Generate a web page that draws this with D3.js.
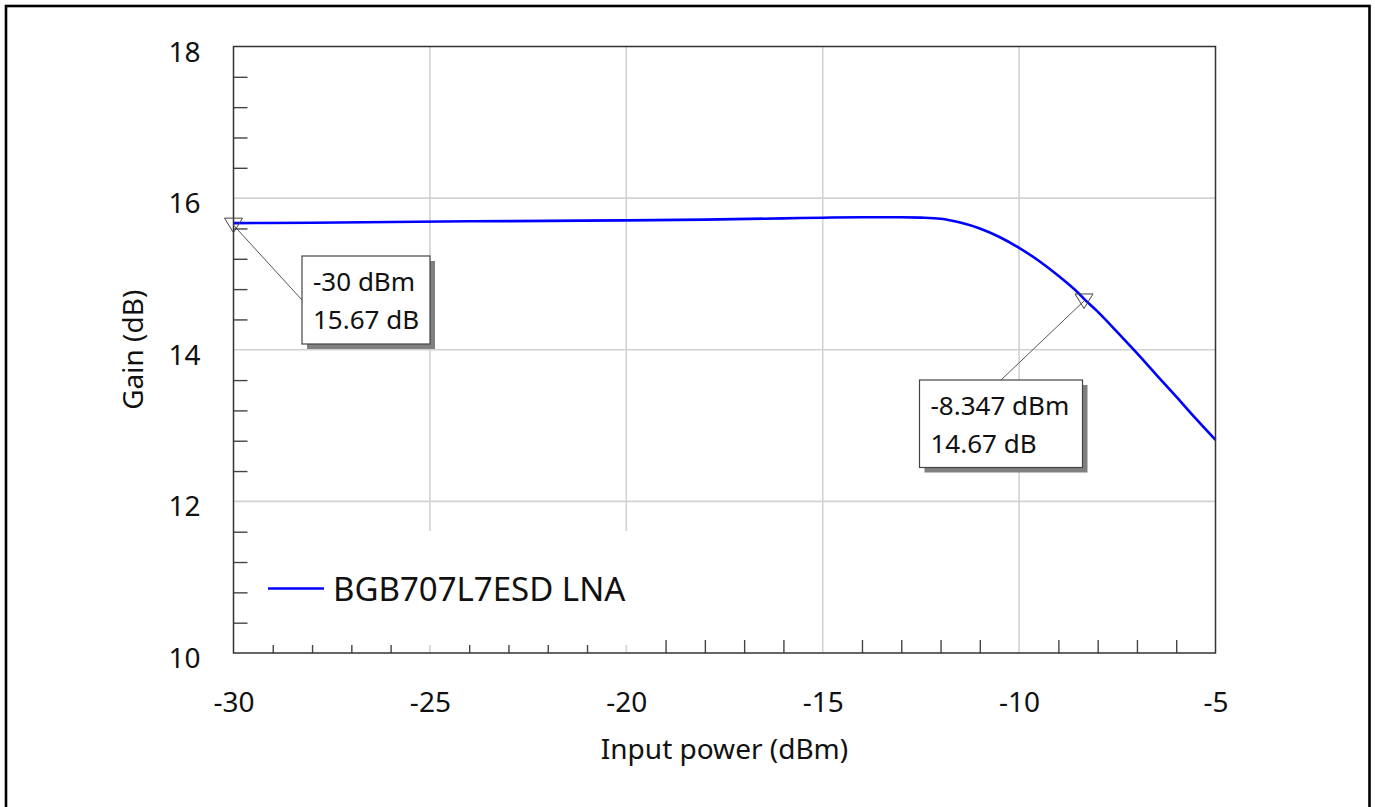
<!DOCTYPE html>
<html>
<head>
<meta charset="utf-8">
<script src="https://cdn.jsdelivr.net/npm/d3@7"></script>
<style>
  html, body { margin: 0; padding: 0; background: #fff; }
  svg { display: block; }
  text { font-family: "Noto Sans", sans-serif; fill: #111; }
</style>
</head>
<body>
<svg id="chart" width="1375" height="807"></svg>
<script>
// Swept input power (dBm) and measured LNA gain (dB)
const inputPower = [-30, -28, -26, -24, -22, -20, -18, -16, -15, -14, -13, -12.5, -12, -11.5, -11, -10.5, -10, -9.5, -9, -8.5, -8.347, -8, -7.5, -7, -6.5, -6, -5.5, -5];
const gain       = [15.67, 15.675, 15.685, 15.694, 15.70, 15.707, 15.717, 15.733, 15.742, 15.747, 15.748, 15.743, 15.728, 15.678, 15.599, 15.487, 15.344, 15.174, 14.975, 14.752, 14.67, 14.503, 14.233, 13.954, 13.666, 13.381, 13.09, 12.81];

const seriesName = "BGB707L7ESD LNA";

// Marker readouts
const markerPower = [-30, -8.347];
const markerGain  = [15.67, 14.67];

// Axis ticks
const xMajorTicks = [-30, -25, -20, -15, -10, -5];
const yMajorTicks = [10, 12, 14, 16, 18];
const xMinorStep = 1;
const yMinorStep = 0.4;

const xTitle = "Input power (dBm)";
const yTitle = "Gain (dB)";

const svg = d3.select("#chart");
const L = 233.5, R = 1215.5, T = 46.5, B = 653;

const x = d3.scaleLinear().domain([-30, -5]).range([L, R]);
const y = d3.scaleLinear().domain([10, 18]).range([B, T]);

// Plain hyphen-minus for negative labels
const fmt = d => String(d);

// Outer frame
svg.append("rect")
  .attr("x", 6).attr("y", 6).attr("width", 1363.5).attr("height", 820)
  .attr("fill", "none").attr("stroke", "#000").attr("stroke-width", 2.6);

// Gridlines
const gridX = [-25, -20, -15, -10];
const gridY = [12, 14, 16];
svg.append("g").selectAll("line").data(gridX).join("line")
  .attr("x1", d => x(d)).attr("x2", d => x(d)).attr("y1", T).attr("y2", B)
  .attr("stroke", "#d2d2d2").attr("stroke-width", 1.6);
svg.append("g").selectAll("line").data(gridY).join("line")
  .attr("y1", d => y(d)).attr("y2", d => y(d)).attr("x1", L).attr("x2", R)
  .attr("stroke", "#d2d2d2").attr("stroke-width", 1.6);

// Minor ticks (inside the plot)
const xMinor = d3.range(-30, -5 + 1e-9, xMinorStep).filter(v => !xMajorTicks.includes(Math.round(v)));
const yMinor = d3.range(10, 18 + 1e-9, yMinorStep).map(v => +v.toFixed(2)).filter(v => Math.abs(v - Math.round(v)) > 1e-6 || Math.round(v) % 2 === 1);

const xMinorAxis = svg.append("g")
  .attr("transform", `translate(0,${B})`)
  .call(d3.axisBottom(x).tickValues(xMinor).tickSizeInner(-13).tickSizeOuter(0).tickFormat(""));
xMinorAxis.select(".domain").remove();
xMinorAxis.selectAll("line").attr("stroke", "#444").attr("stroke-width", 1.4);

const yMinorAxis = svg.append("g")
  .attr("transform", `translate(${L},0)`)
  .call(d3.axisLeft(y).tickValues(yMinor).tickSizeInner(-14).tickSizeOuter(0).tickFormat(""));
yMinorAxis.select(".domain").remove();
yMinorAxis.selectAll("line").attr("stroke", "#444").attr("stroke-width", 1.4);

// Legend panel (opaque, sits over grid and ticks)
svg.append("rect")
  .attr("x", 250).attr("y", 531).attr("width", 392).attr("height", 114)
  .attr("fill", "#fff");
svg.append("line")
  .attr("x1", 268).attr("x2", 324).attr("y1", 588.5).attr("y2", 588.5)
  .attr("stroke", "#0000ff").attr("stroke-width", 2.6);
svg.append("text")
  .attr("x", 333).attr("y", 601)
  .attr("font-size", 33)
  .text(seriesName);

// Gain curve
const line = d3.line()
  .x((d, i) => x(inputPower[i]))
  .y(d => y(d))
  .curve(d3.curveMonotoneX);
svg.append("path")
  .attr("d", line(gain))
  .attr("fill", "none")
  .attr("stroke", "#0000ff")
  .attr("stroke-width", 2.6);

// Plot frame
svg.append("rect")
  .attr("x", L).attr("y", T).attr("width", R - L).attr("height", B - T)
  .attr("fill", "none").attr("stroke", "#333").attr("stroke-width", 1.5);

// Tick labels
const xLab = svg.append("g")
  .attr("transform", `translate(0,${B})`)
  .call(d3.axisBottom(x).tickValues(xMajorTicks).tickSize(0).tickPadding(39).tickFormat(fmt));
xLab.select(".domain").remove();
xLab.selectAll("text").attr("font-size", 28).attr("font-family", "Noto Sans").attr("fill", "#111");

const yLab = svg.append("g")
  .attr("transform", `translate(${L},0)`)
  .call(d3.axisLeft(y).tickValues(yMajorTicks).tickSize(0).tickPadding(33).tickFormat(fmt));
yLab.select(".domain").remove();
yLab.selectAll("text").attr("font-size", 28).attr("font-family", "Noto Sans").attr("fill", "#111").attr("dy", "0.52em");

// Axis titles
svg.append("text")
  .attr("x", (L + R) / 2).attr("y", 759)
  .attr("text-anchor", "middle").attr("font-size", 28)
  .text(xTitle);
svg.append("text")
  .attr("transform", `translate(142.5,${(T + B) / 2}) rotate(-90)`)
  .attr("text-anchor", "middle").attr("font-size", 28)
  .text(yTitle);

// Marker readouts: triangle, leader and shadowed label box
const boxes = [
  { bx: 302, by: 256, bw: 128, bh: 88, ax: "left" },
  { bx: 919.5, by: 380, bw: 163, bh: 87.5, ax: "top" }
];
markerPower.forEach((p, i) => {
  const px = x(p), py = y(markerGain[i]);
  const b = boxes[i];
  const g = svg.append("g");
  const tx = b.ax === "left" ? b.bx : b.bx + b.bw / 2;
  const ty = b.ax === "left" ? b.by + b.bh / 2 : b.by;
  g.append("line")
    .attr("x1", px).attr("y1", py + 2).attr("x2", tx).attr("y2", ty)
    .attr("stroke", "#555").attr("stroke-width", 1);
  g.append("path")
    .attr("d", `M${px - 9},${py - 5}L${px + 9},${py - 5}L${px},${py + 9.5}Z`)
    .attr("fill", "none").attr("stroke", "#444").attr("stroke-width", 1);
  g.append("rect")
    .attr("x", b.bx + 5).attr("y", b.by + 5).attr("width", b.bw).attr("height", b.bh)
    .attr("fill", "#808080");
  g.append("rect")
    .attr("x", b.bx).attr("y", b.by).attr("width", b.bw).attr("height", b.bh)
    .attr("fill", "#fff").attr("stroke", "#444").attr("stroke-width", 1.2);
  g.append("text")
    .attr("x", b.bx + 11).attr("y", b.by + 35)
    .attr("font-size", 26)
    .text(`${p} dBm`);
  g.append("text")
    .attr("x", b.bx + 11).attr("y", b.by + 72.5)
    .attr("font-size", 26)
    .text(`${markerGain[i].toFixed(2)} dB`);
});
</script>
</body>
</html>
